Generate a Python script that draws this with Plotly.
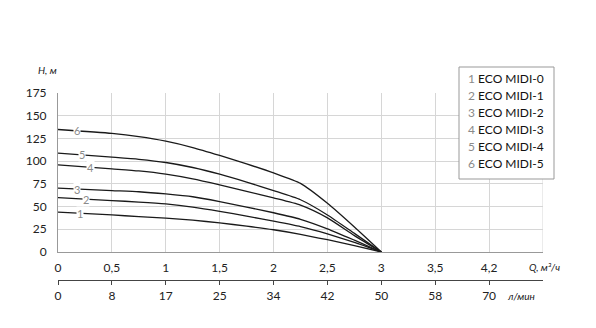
import plotly.graph_objects as go
import numpy as np

# Data
q = [0, 0.5, 0.75, 1, 1.25, 1.5, 1.75, 2, 2.25, 2.5, 2.75, 3]
curves = {
    "1": [43.8, 40.8, 38.9, 37.2, 35.0, 32.0, 28.5, 24.5, 19.5, 13.5, 7.0, 0],
    "2": [59.9, 56.6, 55.0, 52.9, 49.5, 44.8, 39.5, 34.0, 28.0, 20.0, 10.5, 0],
    "3": [70.2, 67.6, 66.3, 63.9, 60.8, 55.5, 49.5, 43.2, 36.0, 25.5, 13.0, 0],
    "4": [95.9, 91.5, 89.2, 85.7, 80.5, 73.9, 66.8, 59.5, 51.5, 37.5, 18.0, 0],
    "5": [108.8, 104.4, 102.0, 98.5, 93.0, 85.7, 77.0, 67.6, 57.5, 40.8, 20.5, 0],
    "6": [134.8, 130.5, 127.0, 122.0, 115.0, 106.3, 97.0, 87.0, 75.5, 53.6, 27.5, 0],
}
legend_names = ["ECO MIDI-0", "ECO MIDI-1", "ECO MIDI-2", "ECO MIDI-3", "ECO MIDI-4", "ECO MIDI-5"]
label_q = {"1": 0.2, "2": 0.26, "3": 0.18, "4": 0.3, "5": 0.22, "6": 0.18}

x_tickvals = [0, 0.5, 1, 1.5, 2, 2.5, 3, 3.5, 4]
x_ticktext = ["0", "0,5", "1", "1,5", "2", "2,5", "3", "3,5", "4,2"]
x2_ticktext = ["0", "8", "17", "25", "34", "42", "50", "58", "70"]
y_tickvals = [0, 25, 50, 75, 100, 125, 150, 175]

FONT = "Lato"
fig = go.Figure()
for k, h in curves.items():
    fig.add_trace(go.Scatter(x=q, y=h, mode="lines",
                             line=dict(color="#1a1a1a", width=1.3, shape="spline", smoothing=0.6),
                             showlegend=False, hoverinfo="skip"))
    lq = label_q[k]
    fig.add_annotation(x=lq, y=float(np.interp(lq, q, h)), text=k, showarrow=False,
                       xanchor="center", yanchor="middle",
                       font=dict(family=FONT, size=11, color="#8a8a8a"), bgcolor="white", borderpad=0)

# dummy trace for x2
fig.add_trace(go.Scatter(x=[0, 4.5], y=[None, None], xaxis="x2", showlegend=False, hoverinfo="skip"))

H = 328
t, b = 93, 46
ph = H - t - b
def py(ypix):
    return (H - b - ypix) / ph
L, R = 58, 53
pw = 596 - L - R
def px(xpix):
    return (xpix - L) / pw

fig.update_layout(
    width=596, height=328,
    margin=dict(l=L, r=R, t=t, b=b),
    plot_bgcolor="white", paper_bgcolor="white",
    font=dict(family=FONT, size=12, color="#222"),
    xaxis=dict(range=[0, 4.5], tickvals=x_tickvals, ticktext=x_ticktext, showgrid=True,
               gridcolor="#d6d6d6", gridwidth=1, zeroline=False, showline=True, linecolor="#999",
               ticks="", ticklabelstandoff=5, anchor="y", tickfont=dict(size=12)),
    xaxis2=dict(range=[0, 4.5], tickvals=x_tickvals, ticktext=x2_ticktext, overlaying="x",
                anchor="free", position=py(280), side="bottom", showgrid=False, zeroline=False,
                showline=True, linecolor="#444", linewidth=1.2, ticks="outside", ticklen=4, tickcolor="#444",
                tickfont=dict(size=12)),
    yaxis=dict(range=[0, 175], tickvals=y_tickvals, domain=[py(252), 1], showgrid=True,
               gridcolor="#d6d6d6", gridwidth=1, zeroline=False, showline=True, linecolor="#999",
               ticks="", ticklabelstandoff=8, tickfont=dict(size=12)),
)
fig.add_shape(type="line", xref="x", yref="y", x0=4.5, x1=4.5, y0=0, y1=175, line=dict(color="#d6d6d6", width=1))

# axis titles
fig.add_annotation(xref="paper", yref="paper", x=px(47), y=py(70), xanchor="center", yanchor="middle",
                   text="<i>H, м</i>", showarrow=False, font=dict(size=10, color="#222"))
fig.add_annotation(xref="paper", yref="paper", x=px(527), y=py(267), xanchor="left", yanchor="middle",
                   text="<i>Q, м³/ч</i>", showarrow=False, font=dict(size=10, color="#222"))
fig.add_annotation(xref="paper", yref="paper", x=px(505), y=py(296), xanchor="left", yanchor="middle",
                   text="<i>л/мин</i>", showarrow=False, font=dict(size=10, color="#222"))

# legend box
fig.add_shape(type="rect", xref="paper", yref="paper", x0=px(459), x1=px(554), y0=py(179), y1=py(67),
              line=dict(color="#999", width=1), fillcolor="white", layer="above")
for i, name in enumerate(legend_names):
    ypix = 79 + i * 16.8
    fig.add_annotation(xref="paper", yref="paper", x=px(466), y=py(ypix), xanchor="left", yanchor="middle",
                       text=f"<span style='color:#8a8a8a'>{i+1}</span> {name}", showarrow=False,
                       font=dict(size=12, color="#111"))

fig.write_html("out.html")
